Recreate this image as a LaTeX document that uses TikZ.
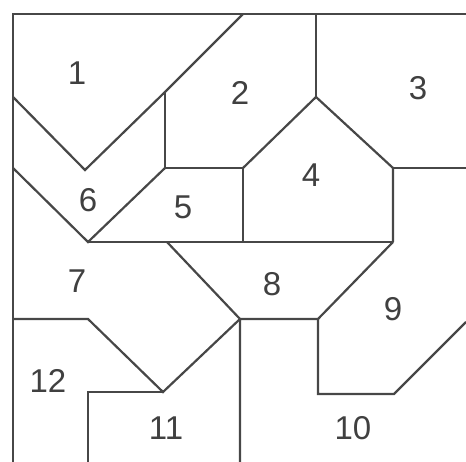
\documentclass[tikz,border=0pt]{standalone}
\usepackage{fontspec}
\setsansfont{Liberation Sans}

\begin{document}
\begin{tikzpicture}[
        x=1pt, y=-1pt,
        edge/.style={draw=black!72, line width=2.2pt, line join=miter},
        numlabel/.style={font=\sffamily\fontsize{33}{33}\selectfont, text=black!75, inner sep=0pt},
    ]
        \useasboundingbox (0,0) rectangle (466,462);

        % Frame corners (map is cut off on the right and at the bottom)
        \coordinate (tl) at (13,14);
        \coordinate (tr) at (466,14);
        \coordinate (bl) at (13,462);

        % Corner points of the regions
        \coordinate (a) at (243,14);
        \coordinate (b) at (165,92);
        \coordinate (c) at (85,170);
        \coordinate (d) at (13,97);
        \coordinate (e) at (165,168);
        \coordinate (f) at (243,168);
        \coordinate (g) at (88,242);
        \coordinate (h) at (13,168);
        \coordinate (i) at (316,97);
        \coordinate (j) at (316,14);
        \coordinate (k) at (393,168);
        \coordinate (l) at (466,168);
        \coordinate (m) at (393,242);
        \coordinate (n) at (167,242);
        \coordinate (o) at (240,319);
        \coordinate (p) at (318,319);
        \coordinate (q) at (318,394);
        \coordinate (r) at (394,394);
        \coordinate (s) at (466,322);
        \coordinate (t) at (163,392);
        \coordinate (u) at (88,319);
        \coordinate (v) at (13,319);
        \coordinate (w) at (88,392);
        \coordinate (wb) at (88,462);
        \coordinate (ob) at (240,462);

        % Frame
        \draw[edge] (bl) -- (tl) -- (tr);

        % Borders between the regions
        \draw[edge] (d) -- (c) -- (b) -- (a);
        \draw[edge] (b) -- (e) -- (f);
        \draw[edge] (h) -- (g) -- (e);
        \draw[edge] (j) -- (i);
        \draw[edge] (f) -- (i) -- (k) -- (m);
        \draw[edge] (k) -- (l);
        \draw[edge] (f) -- (f |- g);
        \draw[edge] (g) -- (m);
        \draw[edge] (n) -- (o) -- (t) -- (u) -- (v);
        \draw[edge] (m) -- (p) -- (o) -- (ob);
        \draw[edge] (p) -- (q) -- (r) -- (s);
        \draw[edge] (wb) -- (w) -- (t);

        % Region numbers
        \node[numlabel] (n1) at (77,73) {1};
        \node[numlabel] (n2) at (240,93) {2};
        \node[numlabel] (n3) at (418,88) {3};
        \node[numlabel] (n4) at (311,175) {4};
        \node[numlabel] (n5) at (183,207) {5};
        \node[numlabel] (n6) at (88,200) {6};
        \node[numlabel] (n7) at (77,281) {7};
        \node[numlabel] (n8) at (272,284) {8};
        \node[numlabel] (n9) at (393,309) {9};
        \node[numlabel] (n10) at (353,428) {10};
        \node[numlabel] (n11) at (166,428) {11};
        \node[numlabel] (n12) at (48,381) {12};
    \end{tikzpicture}
\end{document}
